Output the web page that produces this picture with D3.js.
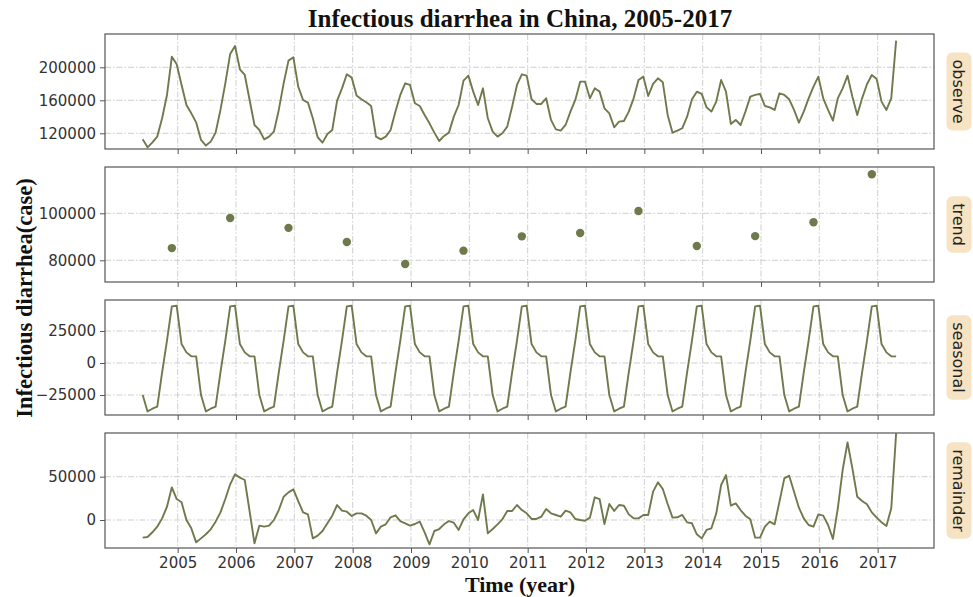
<!DOCTYPE html>
<html>
<head>
<meta charset="utf-8">
<script src="https://cdn.jsdelivr.net/npm/d3@7"></script>
<style>
  html, body { margin: 0; padding: 0; background: #fff; }
  svg { display: block; }
</style>
</head>
<body>
<svg id="chart" width="973" height="597"></svg>
<script>
// ---------------- DATA ----------------
const startYear = 2004.40;           // decimal year of first monthly observation
const yearTicks = [2005, 2006, 2007, 2008, 2009, 2010, 2011, 2012, 2013, 2014, 2015, 2016, 2017];

const observe = [
  112700, 103000, 109100, 116000, 138200, 166500, 212900, 203600, 178600, 154300, 144200, 133300,
  111900, 105100, 109900, 120800, 148300, 180600, 216200, 225800, 197600, 190700, 160400, 130100,
  124000, 112700, 116000, 122000, 148300, 180600, 208100, 212100, 176600, 160400, 157200, 138200,
  115200, 108700, 119200, 124000, 159600, 174500, 191500, 187500, 165700, 161200, 157600, 153100,
  116000, 112700, 116000, 124000, 146300, 166500, 180600, 178600, 156400, 153100, 142200, 132100,
  120800, 110700, 116800, 120800, 140200, 154300, 183800, 189900, 170500, 154300, 174500, 138200,
  122000, 116000, 120000, 128100, 152300, 178600, 191500, 189900, 161200, 155600, 155600, 162400,
  136200, 124800, 123200, 130100, 146300, 160400, 182600, 182600, 162400, 174500, 170500, 150300,
  144200, 127300, 134100, 134900, 146300, 162400, 184600, 188700, 165200, 179800, 186700, 181800,
  142200, 120800, 123200, 126100, 140200, 161200, 170500, 167700, 151500, 146300, 158400, 184600,
  170500, 131300, 136200, 130100, 146300, 164400, 166500, 167700, 153100, 151500, 148300, 168500,
  166500, 161200, 148300, 132900, 146300, 162400, 176600, 188700, 162400, 148300, 135400, 162400,
  174500, 189900, 164400, 142200, 162400, 179400, 190700, 185900, 158400, 148300, 162400, 232300
];

const trendMonthIndex = [6, 18, 30, 42, 54, 66, 78, 90, 102, 114, 126, 138, 150];
const trend = [85200, 98000, 93800, 87800, 78400, 84100, 90200, 91600, 101000, 86100, 90300, 96200, 116600];

// one seasonal cycle (12 months), repeated through the 13 years
const seasonalCycle = [-25000, -37800, -35700, -34100, -7300, 17400, 44200, 44700, 14800, 8300, 5200, 5200];

const remainder = [
  -20400, -19600, -14200, -7700, 1900, 15400, 37700, 24200, 20400, 0, -9600, -25800,
  -21200, -16500, -10800, -1900, 8800, 24200, 41200, 52700, 48900, 46200, 10000, -26900,
  -6500, -7700, -6500, 0, 11500, 26900, 31900, 35400, 21900, 8800, 6500, -21200,
  -18100, -12700, -3800, 5000, 17300, 10800, 9600, 4600, 7700, 7700, 5000, 0,
  -15400, -7700, -5000, 3100, 5400, -1200, -3800, -6500, -4600, -1900, -14200, -28100,
  -12700, -10400, -5000, -1200, -3100, -11500, 800, 7700, 11500, 0, 29600, -15400,
  -10400, -5000, 800, 10400, 10400, 17300, 11500, 7700, 1200, 1200, 3800, 12700,
  7700, 5800, 3800, 10800, 8800, 1200, 0, -800, 2700, 26200, 24200, -4600,
  18500, 10400, 17300, 16500, 6500, 1900, 1900, 5800, 5800, 32700, 43500, 35800,
  18500, 2700, 3100, 5800, -2700, -3800, -16500, -21200, -11500, -9600, 7700, 40400,
  51900, 16500, 19200, 11500, 5000, 800, -20400, -20400, -7700, -1900, -5000, 21200,
  48100, 51200, 32700, 14200, 1900, -5800, -7700, 6500, 5000, -5800, -21900, 13500,
  57700, 89600, 59600, 26900, 21900, 18100, 8800, 2700, -2700, -6900, 13500, 100000
];

const panelNames = ["observe", "trend", "seasonal", "remainder"];
const yTicks = {
  observe: [120000, 160000, 200000],
  trend: [80000, 100000],
  seasonal: [-25000, 0, 25000],
  remainder: [0, 50000]
};
const yDomains = {
  observe: [100970, 240360],
  trend: [70770, 119700],
  seasonal: [-40600, 49200],
  remainder: [-32330, 100460]
};

// ---------------- LAYOUT ----------------
const lineColor = "#6f7a4c";
const left = 105, right = 934;
const panelTops = [34, 167, 300, 433];
const panelH = 115;

const svg = d3.select("#chart");

const x = d3.scaleLinear().domain([2003.754, 2017.966]).range([left, right]);
const tOf = i => startYear + i / 12;

const seasonal = observe.map((_, i) => seasonalCycle[i % 12]);
const seriesData = {
  observe: observe.map((v, i) => ({t: tOf(i), v})),
  seasonal: seasonal.map((v, i) => ({t: tOf(i), v})),
  remainder: remainder.map((v, i) => ({t: tOf(i), v})),
  trend: trend.map((v, k) => ({t: tOf(trendMonthIndex[k]), v}))
};

const defs = svg.append("defs");

panelNames.forEach((name, p) => {
  const top = panelTops[p], bottom = top + panelH;
  const y = d3.scaleLinear().domain(yDomains[name]).range([bottom, top]);
  const g = svg.append("g").attr("class", "panel-" + name);

  defs.append("clipPath").attr("id", "clip-" + name)
    .append("rect").attr("x", left).attr("y", top).attr("width", right - left).attr("height", panelH);

  // grid
  g.append("g").selectAll("line").data(yearTicks).join("line")
    .attr("x1", d => x(d)).attr("x2", d => x(d)).attr("y1", top).attr("y2", bottom)
    .attr("stroke", "#c9c9c9").attr("stroke-width", 0.9).attr("stroke-dasharray", "6,2,1.5,2");
  g.append("g").selectAll("line").data(yTicks[name]).join("line")
    .attr("x1", left).attr("x2", right).attr("y1", d => y(d)).attr("y2", d => y(d))
    .attr("stroke", "#c9c9c9").attr("stroke-width", 0.9).attr("stroke-dasharray", "6,2,1.5,2");

  // y axis
  const yAxis = d3.axisLeft(y).tickValues(yTicks[name]).tickFormat(d3.format("d")).tickSize(5).tickPadding(4);
  const ya = g.append("g").attr("transform", `translate(${left},0)`).call(yAxis);
  ya.select(".domain").remove();
  ya.selectAll("line").attr("stroke", "#555");
  ya.selectAll("text").attr("font-family", "DejaVu Sans").attr("font-size", 15).attr("fill", "#333");

  // x axis
  const xAxis = d3.axisBottom(x).tickValues(yearTicks).tickFormat(d3.format("d")).tickSize(5).tickPadding(4);
  const xa = g.append("g").attr("transform", `translate(0,${bottom})`).call(xAxis);
  xa.select(".domain").remove();
  xa.selectAll("line").attr("stroke", "#555");
  if (p < 3) xa.selectAll("text").remove();
  else xa.selectAll("text").attr("font-family", "DejaVu Sans").attr("font-size", 15).attr("fill", "#333");

  // marks
  const data = seriesData[name];
  const mg = g.append("g").attr("clip-path", `url(#clip-${name})`);
  if (name === "trend") {
    mg.selectAll("circle").data(data).join("circle")
      .attr("cx", d => x(d.t)).attr("cy", d => y(d.v)).attr("r", 4.2)
      .attr("fill", lineColor);
  } else {
    mg.append("path").datum(data)
      .attr("d", d3.line().x(d => x(d.t)).y(d => y(d.v)))
      .attr("fill", "none").attr("stroke", lineColor).attr("stroke-width", 1.9)
      .attr("stroke-linejoin", "round");
  }

  // frame
  g.append("rect").attr("x", left).attr("y", top).attr("width", right - left).attr("height", panelH)
    .attr("fill", "none").attr("stroke", "#555").attr("stroke-width", 1.2);

  // strip label
  const cy = top + panelH / 2;
  const sg = g.append("g");
  const box = sg.append("rect").attr("rx", 6).attr("ry", 6).attr("fill", "#f5e3c3");
  const lbl = sg.append("text")
    .attr("transform", `translate(959,${cy}) rotate(90)`)
    .attr("text-anchor", "middle").attr("dy", "0.35em")
    .attr("font-family", "DejaVu Sans").attr("font-size", 16).attr("fill", "#222")
    .text(name);
  const len = lbl.node().getComputedTextLength();
  box.attr("x", 946.5).attr("y", cy - len / 2 - 7).attr("width", 25).attr("height", len + 14);
});

// title & axis titles
svg.append("text").attr("x", 520).attr("y", 27).attr("text-anchor", "middle")
  .attr("font-family", "Liberation Serif").attr("font-weight", "bold").attr("font-size", 25)
  .attr("fill", "#111").text("Infectious diarrhea in China, 2005-2017");

svg.append("text").attr("x", 520).attr("y", 592).attr("text-anchor", "middle")
  .attr("font-family", "Liberation Serif").attr("font-weight", "bold").attr("font-size", 22)
  .attr("fill", "#111").text("Time (year)");

svg.append("text").attr("transform", "translate(32,298) rotate(-90)").attr("text-anchor", "middle")
  .attr("font-family", "Liberation Serif").attr("font-weight", "bold").attr("font-size", 22.5)
  .attr("fill", "#111").text("Infectious diarrhea(case)");
</script>
</body>
</html>
